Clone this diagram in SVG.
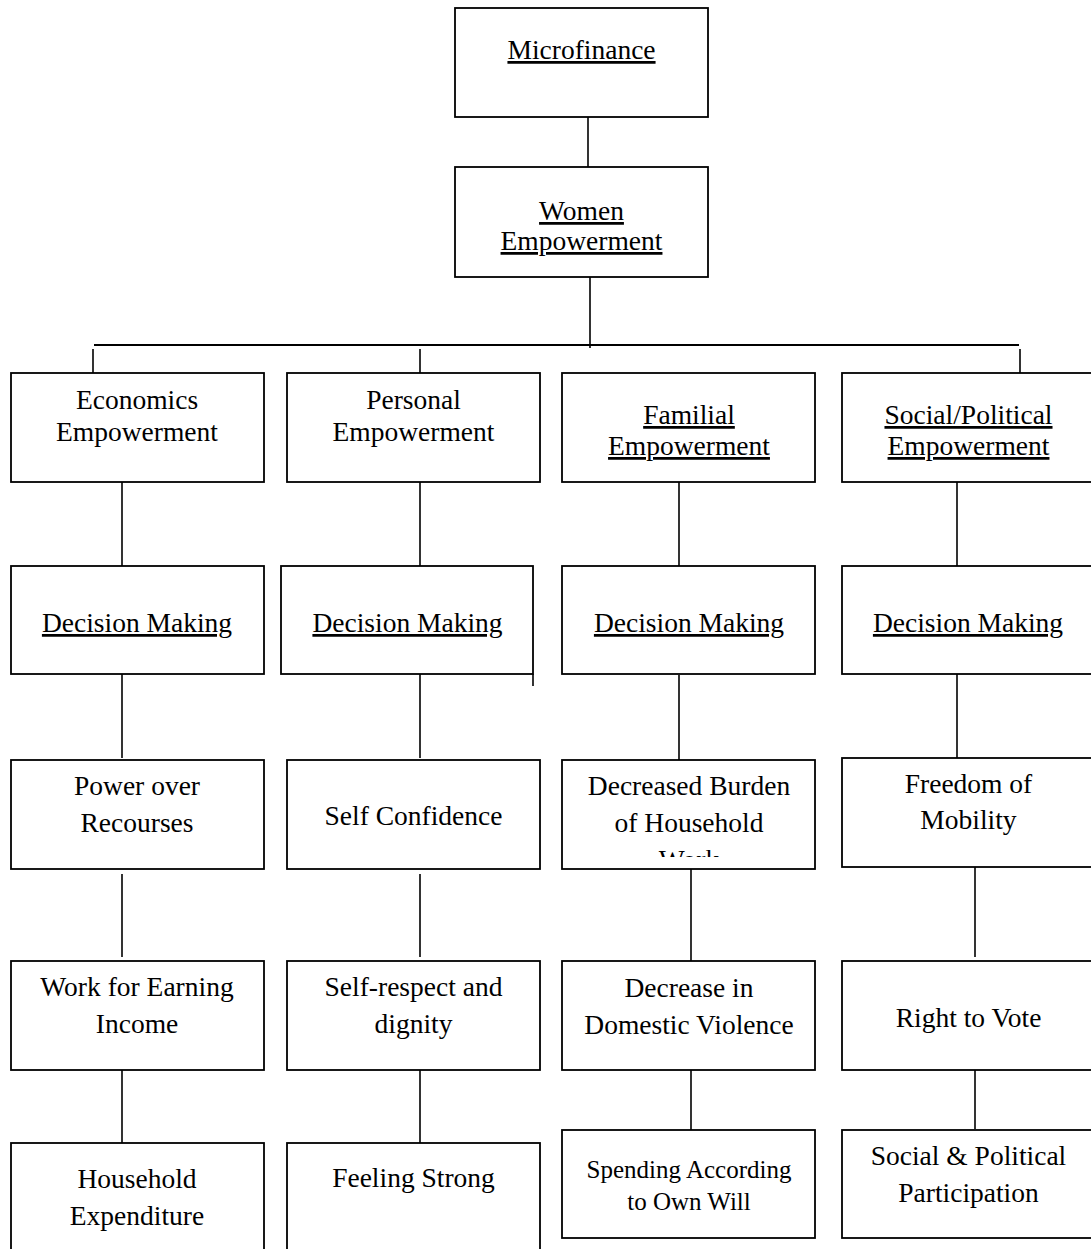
<svg xmlns="http://www.w3.org/2000/svg" width="1091" height="1249" viewBox="0 0 1091 1249">
<style>
.box{fill:#fff;stroke:#000;stroke-width:1.8}
.t{font-family:"Liberation Serif","Times New Roman",serif;font-size:27.5px;fill:#000;text-anchor:middle}
.s{font-size:25px}
.u{text-decoration:underline}
.c{stroke:#000;stroke-width:1.6;fill:none}
.h{stroke:#000;stroke-width:2.2;fill:none}
</style>
<defs>
<clipPath id="clipWork"><rect x="562" y="760" width="253" height="97"/></clipPath>
</defs>
<g id="connectors">
<line class="c" x1="588" y1="117" x2="588" y2="167"/>
<line class="c" x1="590" y1="277" x2="590" y2="348"/>
<line class="h" x1="94" y1="345" x2="1019" y2="345"/>
<line class="c" x1="93" y1="349" x2="93" y2="373"/>
<line class="c" x1="420" y1="349" x2="420" y2="373"/>
<line class="c" x1="1020" y1="349" x2="1020" y2="373"/>
<line class="c" x1="122" y1="482" x2="122" y2="566"/>
<line class="c" x1="122" y1="674" x2="122" y2="758"/>
<line class="c" x1="122" y1="874" x2="122" y2="957"/>
<line class="c" x1="122" y1="1070" x2="122" y2="1143"/>
<line class="c" x1="420" y1="482" x2="420" y2="566"/>
<line class="c" x1="420" y1="674" x2="420" y2="758"/>
<line class="c" x1="420" y1="874" x2="420" y2="957"/>
<line class="c" x1="420" y1="1070" x2="420" y2="1143"/>
<line class="c" x1="679" y1="482" x2="679" y2="566"/>
<line class="c" x1="679" y1="675" x2="679" y2="760"/>
<line class="c" x1="691" y1="865" x2="691" y2="961"/>
<line class="c" x1="691" y1="1070" x2="691" y2="1130"/>
<line class="c" x1="957" y1="482" x2="957" y2="566"/>
<line class="c" x1="957" y1="674" x2="957" y2="769"/>
<line class="c" x1="975" y1="867" x2="975" y2="957"/>
<line class="c" x1="975" y1="1070" x2="975" y2="1129"/>
</g>
<g id="microfinance"><rect class="box" x="455" y="8" width="253" height="109"/><text class="t u" x="581.5" y="59">Microfinance</text></g>
<g id="women-empowerment"><rect class="box" x="455" y="167" width="253" height="110"/><text class="t u" x="581.5" y="220">Women</text><text class="t u" x="581.5" y="250">Empowerment</text></g>

<g id="economics-empowerment"><rect class="box" x="11" y="373" width="253" height="109"/><text class="t" x="137" y="409">Economics</text><text class="t" x="137" y="441">Empowerment</text></g>
<g id="personal-empowerment"><rect class="box" x="287" y="373" width="253" height="109"/><text class="t" x="413.5" y="409">Personal</text><text class="t" x="413.5" y="441">Empowerment</text></g>
<g id="familial-empowerment"><rect class="box" x="562" y="373" width="253" height="109"/><text class="t u" x="689" y="424">Familial</text><text class="t u" x="689" y="455">Empowerment</text></g>
<g id="social-political-empowerment"><rect class="box" x="842" y="373" width="253" height="109"/><text class="t u" x="968.5" y="424">Social/Political</text><text class="t u" x="968.5" y="455">Empowerment</text></g>

<g id="decision-1"><rect class="box" x="11" y="566" width="253" height="108"/><text class="t u" x="137" y="632">Decision Making</text></g>
<g id="decision-2"><rect class="box" x="281" y="566" width="252" height="108"/><line class="c" x1="533" y1="674" x2="533" y2="686"/><text class="t u" x="407.5" y="632">Decision Making</text></g>
<g id="decision-3"><rect class="box" x="562" y="566" width="253" height="108"/><text class="t u" x="689" y="632">Decision Making</text></g>
<g id="decision-4"><rect class="box" x="842" y="566" width="253" height="108"/><text class="t u" x="968" y="632">Decision Making</text></g>

<g id="power-over-recourses"><rect class="box" x="11" y="760" width="253" height="109"/><text class="t" x="137" y="795">Power over</text><text class="t" x="137" y="832">Recourses</text></g>
<g id="self-confidence"><rect class="box" x="287" y="760" width="253" height="109"/><text class="t" x="413.5" y="825">Self Confidence</text></g>
<g id="decreased-burden"><rect class="box" x="562" y="760" width="253" height="109"/><text class="t" x="689" y="795">Decreased Burden</text><text class="t" x="689" y="832">of Household</text><text class="t" x="689" y="869" clip-path="url(#clipWork)">Work</text></g>
<g id="freedom-of-mobility"><rect class="box" x="842" y="758" width="253" height="109"/><text class="t" x="968.5" y="793">Freedom of</text><text class="t" x="968.5" y="829">Mobility</text></g>

<g id="work-for-earning-income"><rect class="box" x="11" y="961" width="253" height="109"/><text class="t" x="137" y="996">Work for Earning</text><text class="t" x="137" y="1033">Income</text></g>
<g id="self-respect"><rect class="box" x="287" y="961" width="253" height="109"/><text class="t" x="413.5" y="996">Self-respect and</text><text class="t" x="413.5" y="1033">dignity</text></g>
<g id="domestic-violence"><rect class="box" x="562" y="961" width="253" height="109"/><text class="t" x="689" y="997">Decrease in</text><text class="t" x="689" y="1034">Domestic Violence</text></g>
<g id="right-to-vote"><rect class="box" x="842" y="961" width="253" height="109"/><text class="t" x="968.5" y="1027">Right to Vote</text></g>

<g id="household-expenditure"><rect class="box" x="11" y="1143" width="253" height="110"/><text class="t" x="137" y="1188">Household</text><text class="t" x="137" y="1225">Expenditure</text></g>
<g id="feeling-strong"><rect class="box" x="287" y="1143" width="253" height="110"/><text class="t" x="413.5" y="1187">Feeling Strong</text></g>
<g id="spending"><rect class="box" x="562" y="1130" width="253" height="108"/><text class="t s" x="689" y="1178">Spending According</text><text class="t s" x="689" y="1210">to Own Will</text></g>
<g id="social-political-participation"><rect class="box" x="842" y="1130" width="253" height="108"/><text class="t" x="968.5" y="1165">Social &amp; Political</text><text class="t" x="968.5" y="1202">Participation</text></g>
</svg>
